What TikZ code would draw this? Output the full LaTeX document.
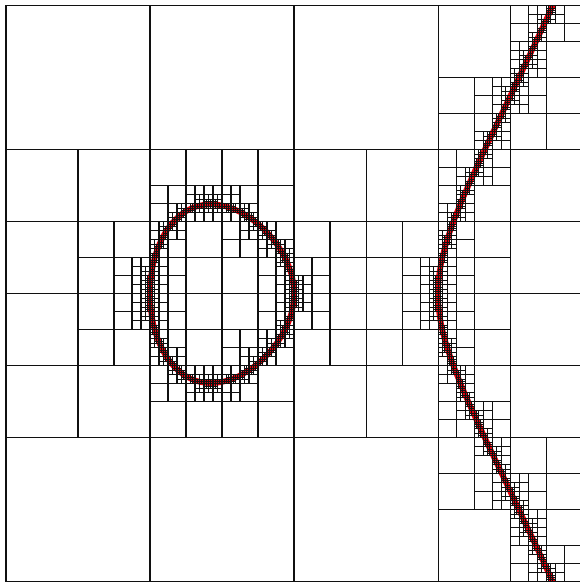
\documentclass[tikz,border=0pt]{standalone}
\usepackage{tikz}
\definecolor{QTRed}{HTML}{E5000A}
\definecolor{QTLine}{HTML}{101010}

% foot point on y^2 = x^3 - x, seen from (\qtcx,\qtcy)
\newcommand\qtgrad{%
  \pgfmathsetmacro\qtf{(\qtqy)*(\qtqy)-(\qtqx)*(\qtqx)*(\qtqx)+(\qtqx)}%
  \pgfmathsetmacro\qtgx{1-3*(\qtqx)*(\qtqx)}%
  \pgfmathsetmacro\qtgy{2*(\qtqy)}%
  \pgfmathsetmacro\qtgn{max(veclen(\qtgx,\qtgy),0.05)}%
  \pgfmathsetmacro\qts{max(min((\qtf)/(\qtgn),0.5),-0.5)}}
\newcommand\qtmove{%
  \pgfmathsetmacro\qtqx{max(min((\qtqx)-(\qts)*(\qtgx)/(\qtgn),2.5),-2.5)}%
  \pgfmathsetmacro\qtqy{max(min((\qtqy)-(\qts)*(\qtgy)/(\qtgn),2.5),-2.5)}}
\newcommand\qtslide{%
  \pgfmathsetmacro\qtt{max(min(((\qtcy)-(\qtqy))*(\qtgx)/(\qtgn)-((\qtcx)-(\qtqx))*(\qtgy)/(\qtgn),0.5),-0.5)}%
  \pgfmathsetmacro\qtqx{(\qtqx)-(\qtt)*(\qtgy)/(\qtgn)}%
  \pgfmathsetmacro\qtqy{(\qtqy)+(\qtt)*(\qtgx)/(\qtgn)}}

% one quadtree cell: lower left corner #1,#2 and size #3
\newcommand\qtcell[3]{%
  \begingroup
  \ifdim#3pt>0.02pt
    \pgfmathsetmacro\qtcx{#1+#3/2}%
    \pgfmathsetmacro\qtcy{#2+#3/2}%
    \let\qtqx\qtcx \let\qtqy\qtcy
    \qtgrad\qtmove\qtgrad\qtmove
    \ifdim#3pt>0.1pt
      \qtgrad\qtmove\qtgrad\qtmove
      \qtgrad\qtslide\qtgrad\qtmove\qtgrad\qtmove
      \qtgrad\qtslide\qtgrad\qtmove\qtgrad\qtmove
      \qtgrad\qtslide\qtgrad\qtmove\qtgrad\qtmove
    \else\ifdim#3pt>0.05pt
      \qtgrad\qtslide\qtgrad\qtmove
    \fi\fi
    \qtgrad
    \pgfmathsetmacro\qtd{veclen((\qtcx)-(\qtqx),(\qtcy)-(\qtqy))+abs(\qts)}%
    \pgfmathsetmacro\qtlim{0.72*#3}%
    \ifdim\qtd pt<\qtlim pt
      \pgfmathsetmacro\qth{#3/2}%
      \pgfmathsetmacro\qtxe{#1+#3}%
      \pgfmathsetmacro\qtye{#2+#3}%
      \ifdim#3pt>0.05pt
        \draw[quadcell] (\qtcx,#2) -- (\qtcx,\qtye) (#1,\qtcy) -- (\qtxe,\qtcy);
      \else
        \draw[finecell] (\qtcx,#2) -- (\qtcx,\qtye) (#1,\qtcy) -- (\qtxe,\qtcy);
      \fi
      \edef\qtnext{%
        \noexpand\qtcell{#1}{#2}{\qth}\noexpand\qtcell{\qtcx}{#2}{\qth}%
        \noexpand\qtcell{#1}{\qtcy}{\qth}\noexpand\qtcell{\qtcx}{\qtcy}{\qth}}%
      \qtnext
    \fi
  \fi
  \endgroup}

\begin{document}
\begin{tikzpicture}[x=2.5cm,y=2.5cm,
    quadcell/.style={draw=QTLine,line width=0.5pt},
    finecell/.style={draw=QTLine,line width=0.35pt},
    curveline/.style={draw=QTRed,line width=2.8pt}]
  \useasboundingbox (-2.0417,-2.009) rectangle (1.9861,2.0396);
  \begin{scope}
    \clip (-2,-2) rectangle (2,2);
    % oval and right branch
    \draw[curveline] plot[domain=0:360,samples=181]
      ({-sin(\x/2)*sin(\x/2)},{0.5*sin(\x)*sqrt(1+sin(\x/2)*sin(\x/2))});
    \draw[curveline] plot[domain=-0.9:0.9,samples=121]
      ({1+\x*\x},{\x*sqrt((1+\x*\x)*(2+\x*\x))});
  \end{scope}
  \qtcell{-2}{-2}{4}
  \draw[quadcell] (-2,-2) rectangle (2,2);
\end{tikzpicture}
\end{document}
